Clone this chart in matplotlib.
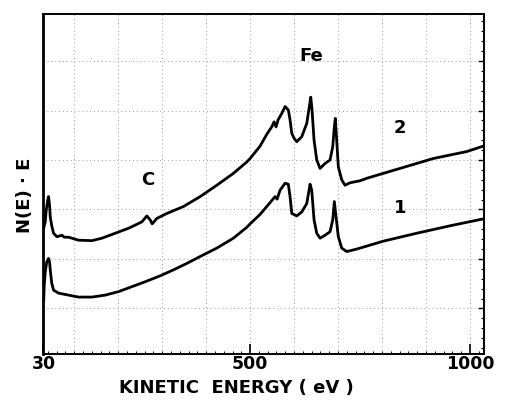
import matplotlib
matplotlib.use("Agg")
import matplotlib.pyplot as plt
from matplotlib.ticker import MultipleLocator, FixedLocator

# ---- data ----
e2 = [30.7, 34.1, 36.4, 39.8, 41.6, 43.9, 45.5, 48.9, 53.0, 60.7, 72.0, 77.3, 87.0,
      109.8, 140.2, 163.0, 193.2, 223.4, 253.9, 265.2, 272.7, 277.3, 288.0, 310.7,
      348.4, 386.4, 424.3, 462.0, 492.5, 500.0, 522.7, 538.0, 549.3, 554.5, 559.1,
      563.6, 572.0, 579.5, 587.0, 590.9, 594.8, 600.0, 606.1, 617.5, 628.9, 634.8,
      638.0, 640.9, 645.5, 651.6, 659.1, 670.5, 681.8, 688.0, 691.6, 693.9, 697.0,
      700.7, 708.4, 715.9, 727.3, 750.0, 765.2, 803.0, 840.9, 878.9, 916.6, 954.5,
      992.5, 1030.2]
n2 = [2.63, 2.75, 2.99, 3.19, 3.26, 3.09, 2.85, 2.67, 2.52, 2.45, 2.48, 2.44, 2.44,
      2.38, 2.37, 2.42, 2.52, 2.62, 2.75, 2.87, 2.79, 2.71, 2.82, 2.92,
      3.06, 3.26, 3.49, 3.73, 3.96, 4.03, 4.28, 4.52, 4.67, 4.77, 4.67,
      4.81, 4.94, 5.08, 5.01, 4.81, 4.54, 4.44, 4.37, 4.47, 4.74, 5.08,
      5.27, 5.01, 4.40, 4.00, 3.83, 3.93, 4.00, 4.27, 4.67, 4.84, 4.40,
      3.86, 3.60, 3.49, 3.54, 3.58, 3.63, 3.73, 3.83, 3.93, 4.03, 4.10,
      4.17, 4.28]

e1 = [30.7, 31.8, 34.1, 37.5, 41.6, 43.9, 45.5, 48.9, 53.0, 64.3, 87.0, 109.8, 140.2,
      170.5, 200.7, 231.1, 261.4, 295.5, 325.7, 356.1, 386.4, 424.3, 462.0, 492.5,
      500.0, 522.7, 545.5, 556.8, 561.4, 568.2, 579.5, 587.0, 590.9, 594.8, 606.1,
      617.5, 628.9, 634.1, 636.4, 640.2, 645.5, 651.6, 659.1, 670.5, 681.8, 688.0,
      691.6, 695.5, 700.7, 708.4, 719.8, 742.5, 803.0, 878.9, 954.5, 1030.2]
n1 = [1.17, 1.47, 1.74, 1.94, 2.01, 1.94, 1.78, 1.51, 1.37, 1.31, 1.27, 1.23, 1.23,
      1.27, 1.34, 1.44, 1.54, 1.66, 1.78, 1.91, 2.05, 2.22, 2.42, 2.64,
      2.71, 2.90, 3.14, 3.26, 3.21, 3.39, 3.53, 3.51, 3.26, 2.92, 2.87,
      2.95, 3.12, 3.39, 3.51, 3.39, 2.79, 2.52, 2.42, 2.48, 2.55, 2.79,
      3.16, 2.85, 2.45, 2.22, 2.15, 2.20, 2.36, 2.52, 2.67, 2.81]

xticks = [30, 500, 1000]
xtick_labels = ["30", "500", "1000"]

W, H = 511, 409
fig = plt.figure(figsize=(W / 100, H / 100), dpi=100)
ax = fig.add_axes([43 / W, 1 - 354 / H, (484 - 43) / W, (354 - 14) / H])

ax.plot(e2, n2, color="black", lw=2.0, solid_joinstyle="round")
ax.plot(e1, n1, color="black", lw=2.0, solid_joinstyle="round")

ax.set_xlim(29, 1032)
ax.set_ylim(0.08, 6.95)

# grid
for gx in range(100, 1001, 100):
    ax.axvline(gx, color="#999999", lw=0.7, ls=(0, (1, 3)), zorder=0)
for gy in range(1, 7):
    ax.axhline(gy, color="#999999", lw=0.7, ls=(0, (1, 3)), zorder=0)

# x ticks
ax.xaxis.set_major_locator(FixedLocator(xticks))
ax.set_xticklabels(xtick_labels, fontsize=12.5, fontweight="bold")
ax.xaxis.set_minor_locator(MultipleLocator(20))
ax.tick_params(axis="x", which="major", direction="in", length=7, width=1.2, pad=1)
ax.tick_params(axis="x", which="minor", direction="in", length=2, width=0.7)

# y ticks only on right side
ax.yaxis.set_major_locator(MultipleLocator(1))
ax.yaxis.set_minor_locator(MultipleLocator(0.2))
ax.tick_params(axis="y", which="both", left=False, right=True, labelleft=False,
               direction="in")
ax.tick_params(axis="y", which="major", length=4, width=1)
ax.tick_params(axis="y", which="minor", length=2.5, width=0.8)

for side in ["top", "right", "bottom"]:
    ax.spines[side].set_linewidth(1.4)
ax.spines["left"].set_linewidth(2.0)

# labels
fig.text(236 / W, 1 - 388 / H, "KINETIC  ENERGY ( eV )", ha="center", va="center",
         fontsize=13, fontweight="bold")
fig.text(25 / W, 1 - 195 / H, "N(E) · E", ha="center", va="center", rotation=90,
         fontsize=13, fontweight="bold")

# annotations
ax.text(638, 6.1, "Fe", ha="center", va="center", fontsize=13, fontweight="bold")
ax.text(267, 3.6, "C", ha="center", va="center", fontsize=13, fontweight="bold")
ax.text(841, 4.65, "2", ha="center", va="center", fontsize=13, fontweight="bold")
ax.text(841, 3.03, "1", ha="center", va="center", fontsize=13, fontweight="bold")

fig.savefig("out.png", dpi=100)
